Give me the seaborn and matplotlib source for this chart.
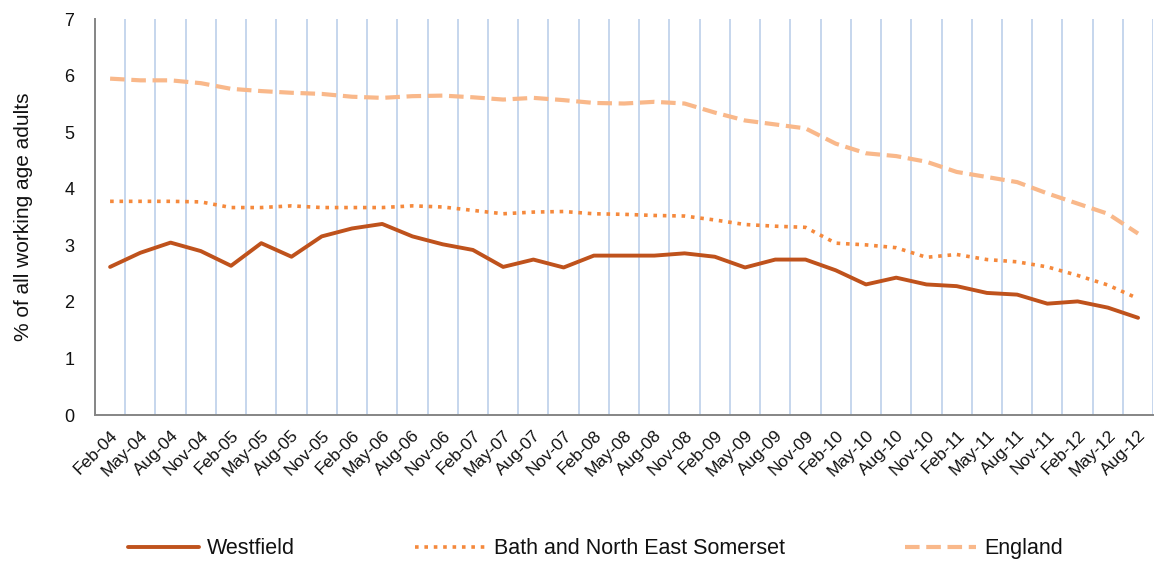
import matplotlib
matplotlib.use("Agg")
import matplotlib.pyplot as plt
import numpy as np
import pandas as pd
import seaborn as sns

# quarterly labels, Feb-04 .. Aug-12
labels = ["Feb-04", "May-04", "Aug-04", "Nov-04", "Feb-05", "May-05", "Aug-05", "Nov-05",
          "Feb-06", "May-06", "Aug-06", "Nov-06", "Feb-07", "May-07", "Aug-07", "Nov-07",
          "Feb-08", "May-08", "Aug-08", "Nov-08", "Feb-09", "May-09", "Aug-09", "Nov-09",
          "Feb-10", "May-10", "Aug-10", "Nov-10", "Feb-11", "May-11", "Aug-11", "Nov-11",
          "Feb-12", "May-12", "Aug-12"]

westfield = [2.62, 2.87, 3.05, 2.90, 2.64, 3.04, 2.80, 3.16, 3.30, 3.38, 3.16, 3.02,
             2.92, 2.62, 2.75, 2.61, 2.82, 2.82, 2.82, 2.86, 2.80, 2.61, 2.75, 2.75,
             2.56, 2.31, 2.43, 2.31, 2.28, 2.16, 2.13, 1.97, 2.01, 1.90, 1.72]
bath = [3.78, 3.78, 3.78, 3.77, 3.67, 3.67, 3.70, 3.67, 3.67, 3.67, 3.70, 3.68,
        3.62, 3.56, 3.59, 3.60, 3.56, 3.55, 3.53, 3.52, 3.45, 3.37, 3.34, 3.32,
        3.04, 3.01, 2.96, 2.79, 2.84, 2.75, 2.71, 2.62, 2.47, 2.30, 2.06]
england = [5.95, 5.92, 5.92, 5.87, 5.77, 5.73, 5.70, 5.68, 5.63, 5.61, 5.64, 5.65,
           5.62, 5.58, 5.61, 5.57, 5.52, 5.51, 5.54, 5.51, 5.35, 5.21, 5.14, 5.07,
           4.80, 4.63, 4.58, 4.48, 4.30, 4.21, 4.12, 3.92, 3.74, 3.56, 3.21]

sns.set_theme(style="white")
plt.rcParams["font.family"] = ["Liberation Sans", "DejaVu Sans"]
plt.rcParams["text.color"] = "#111111"
plt.rcParams["xtick.color"] = "#111111"
plt.rcParams["ytick.color"] = "#111111"
plt.rcParams["axes.labelcolor"] = "#111111"

idx = np.arange(len(labels))
df = pd.DataFrame({"x": idx, "Westfield": westfield,
                   "Bath and North East Somerset": bath, "England": england})

fig = plt.figure(figsize=(11.54, 5.67), dpi=100)
ax = fig.add_axes([0.0823, 0.268, 0.917, 0.698])

# vertical gridlines between categories
for b in np.arange(-0.5, len(labels), 1.0):
    ax.axvline(b, color="#bcd0ea", lw=1.2, zorder=0)

sns.lineplot(data=df, x="x", y="Westfield", ax=ax, color="#bf521c", lw=2.8,
             label="Westfield", zorder=4)
sns.lineplot(data=df, x="x", y="Bath and North East Somerset", ax=ax, color="#f5893c",
             lw=2.6, linestyle=(0, (1, 1.6)), label="Bath and North East Somerset", zorder=3)
sns.lineplot(data=df, x="x", y="England", ax=ax, color="#f9b88a", lw=3.0,
             linestyle=(0, (3.5, 1.6)), label="England", zorder=2)

ax.set_xlim(-0.5, len(labels) - 0.5)
ax.set_ylim(0, 7)
ax.set_yticks(range(0, 8))
ax.set_xticks(idx)
ax.set_xticklabels(labels, rotation=45, ha="right", rotation_mode="anchor", fontsize=12.5)
ax.set_xticks(np.arange(-0.5, len(labels), 1.0), minor=True)
ax.tick_params(axis="x", which="major", length=0, pad=9)
ax.tick_params(axis="x", which="minor", length=6, width=1.2, color="#858585", direction="out")
ax.tick_params(axis="y", length=6, width=1.2, color="#858585", direction="out",
               labelsize=13, pad=9)
ax.set_xlabel("")
ax.set_ylabel("% of all working age adults", fontsize=15, labelpad=22)

for s in ["top", "right"]:
    ax.spines[s].set_visible(False)
for s in ["left", "bottom"]:
    ax.spines[s].set_color("#858585")
    ax.spines[s].set_linewidth(1.4)

handles, lbls = ax.get_legend_handles_labels()
ax.get_legend().remove()
fig.legend(handles, lbls, loc="center", ncol=3, frameon=False, fontsize=15.5,
           bbox_to_anchor=(0.516, 0.032), handlelength=3.3, handletextpad=0.35,
           columnspacing=5.6)

fig.savefig("out.png", dpi=100)
